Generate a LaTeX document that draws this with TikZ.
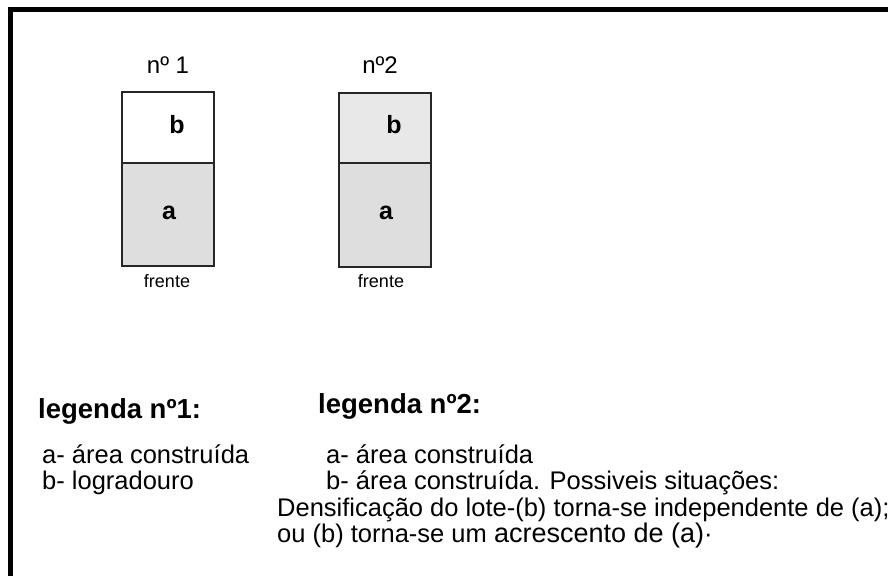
\documentclass[tikz,border=0pt]{standalone}
\usepackage{fontspec}
\setmainfont{Liberation Sans}
\definecolor{areagray}{RGB}{222,222,222}
\definecolor{areagraylt}{RGB}{232,232,232}
\begin{document}
\begin{tikzpicture}[x=1pt,y=-1pt,
    lote/.style={draw=black!85,line width=1.6pt},
    titulo/.style={font=\fontsize{24}{24}\selectfont},
    letra/.style={font=\fontsize{25}{25}\selectfont\bfseries},
    frente/.style={font=\fontsize{18}{18}\selectfont},
    legtit/.style={anchor=base west,inner sep=0pt,font=\fontsize{27.5}{27.5}\selectfont\bfseries},
    legtxt/.style={anchor=base west,inner sep=0pt,font=\fontsize{25.5}{25.5}\selectfont}]
        \useasboundingbox (0,0) rectangle (888,576);
        \path[fill=white] (0,0) rectangle (888,576);
        \path[draw,line width=5pt] (10,576) -- (10,9.5) -- (888,9.5);

        % lote 1
        \path[fill=areagray] (122,163) rectangle (214,266);
        \path[draw,lote] (122,92) rectangle (214,266);
        \path[draw,lote] (122,163) -- (214,163);
        % lote 2
        \path[fill=areagraylt] (339,93) rectangle (431,163);
        \path[fill=areagray] (339,163) rectangle (431,267);
        \path[draw,lote] (339,93) rectangle (431,267);
        \path[draw,lote] (339,163) -- (431,163);

        \node[titulo] (t1) at (168,65) {nº 1};
        \node[titulo] (t2) at (380,65) {nº2};

        \node[letra] (b1) at (177,125) {b};
        \node[letra] (a1) at (169,213) {a};
        \node[letra] (b2) at (394,125) {b};
        \node[letra] (a2) at (386,213) {a};

        \node[frente] (f1) at (167,281) {frente};
        \node[frente] (f2) at (381,281) {frente};

        \node[legtit] (leg1) at (38,418) {legenda nº1:};
        \node[legtit] (leg2) at (318,413) {legenda nº2:};

        \node[legtxt] (l1a) at (42,463) {a- área construída};
        \node[legtxt] (l1b) at (42,489) {b- logradouro};
        \node[legtxt] (l2a) at (326,463) {a- área construída};
        \node[legtxt] (l2b) at (326,489) {b- área construída. Possiveis situações:};
        \node[legtxt] (l2c) at (277,516) {Densificação do lote-(b) torna-se independente de (a);};
        \node[legtxt] (l2d) at (277,542) {ou (b) torna-se um {\fontsize{27}{27}\selectfont acrescento de (a)}·};
\end{tikzpicture}
\end{document}
